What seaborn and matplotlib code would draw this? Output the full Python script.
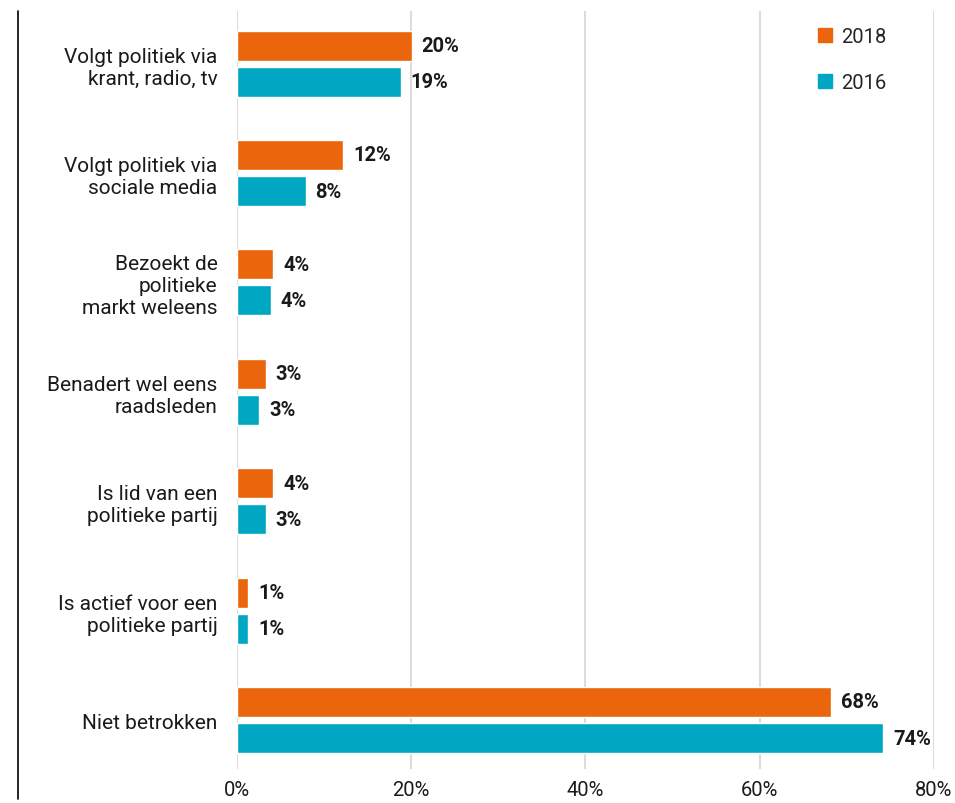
import pandas as pd
import matplotlib.pyplot as plt
import seaborn as sns
import numpy as np
from matplotlib.lines import Line2D

categories = [
    'Volgt politiek via\nkrant, radio, tv',
    'Volgt politiek via\nsociale media',
    'Bezoekt de\npolitieke\nmarkt weleens',
    'Benadert wel eens\nraadsleden',
    'Is lid van een\npolitieke partij',
    'Is actief voor een\npolitieke partij',
    'Niet betrokken',
]
years = ['2018', '2016']
values_2018 = [20.1, 12.2, 4.2, 3.3, 4.2, 1.3, 68.2]
values_2016 = [18.8, 7.9, 3.9, 2.6, 3.3, 1.3, 74.2]
labels_2018 = ['20%', '12%', '4%', '3%', '4%', '1%', '68%']
labels_2016 = ['19%', '8%', '4%', '3%', '3%', '1%', '74%']
colors = {'2018': '#EA650B', '2016': '#00A7C2'}

df = pd.DataFrame({
    'categorie': categories * 2,
    'jaar': ['2018'] * len(categories) + ['2016'] * len(categories),
    'waarde': values_2018 + values_2016,
})

sns.set_style('white')
plt.rcParams['font.family'] = ['Roboto', 'DejaVu Sans']

fig = plt.figure(figsize=(9.55, 8.04), dpi=100)
ax = fig.add_axes([0.248, 0.042, 0.73, 0.943])

sns.barplot(data=df, x='waarde', y='categorie', hue='jaar', hue_order=years,
            palette=colors, orient='h', width=0.66, gap=0.17, saturation=1,
            ax=ax, legend=False)

for cont, labs in zip(ax.containers, [labels_2018, labels_2016]):
    ax.bar_label(cont, labels=labs, padding=7, fontsize=14.5, fontweight='bold',
                 color='#1a1a1a')

ax.set_xlim(0, 80)
ax.set_ylim(6.45, -0.48)
ax.set_xticks(np.arange(0, 81, 20))
ax.set_xticklabels([f'{t}%' for t in range(0, 81, 20)])
ax.xaxis.grid(True, color='#dcdcdc', linewidth=1.5)
ax.set_axisbelow(True)
for s in ax.spines.values():
    s.set_visible(False)
ax.tick_params(axis='x', length=0, pad=8, labelsize=14.5, labelcolor='#1a1a1a')
ax.tick_params(axis='y', length=0, pad=14, labelsize=15, labelcolor='#1a1a1a')
for t in ax.get_yticklabels():
    t.set_horizontalalignment('right')
    t.set_multialignment('right')
ax.set_xlabel('')
ax.set_ylabel('')

handles = [Line2D([], [], marker='s', linestyle='', markersize=10,
                  color=colors[y]) for y in years]
ax.legend(handles, years, loc='upper right', bbox_to_anchor=(0.958, 1.003),
          frameon=False, fontsize=14.5, labelspacing=1.35, handletextpad=0.35,
          handlelength=0.9)

fig.add_artist(Line2D([18 / 955, 18 / 955], [0.005, 1 - 12 / 804],
                      color='black', linewidth=1.2))

fig.savefig('out.png', dpi=100)
